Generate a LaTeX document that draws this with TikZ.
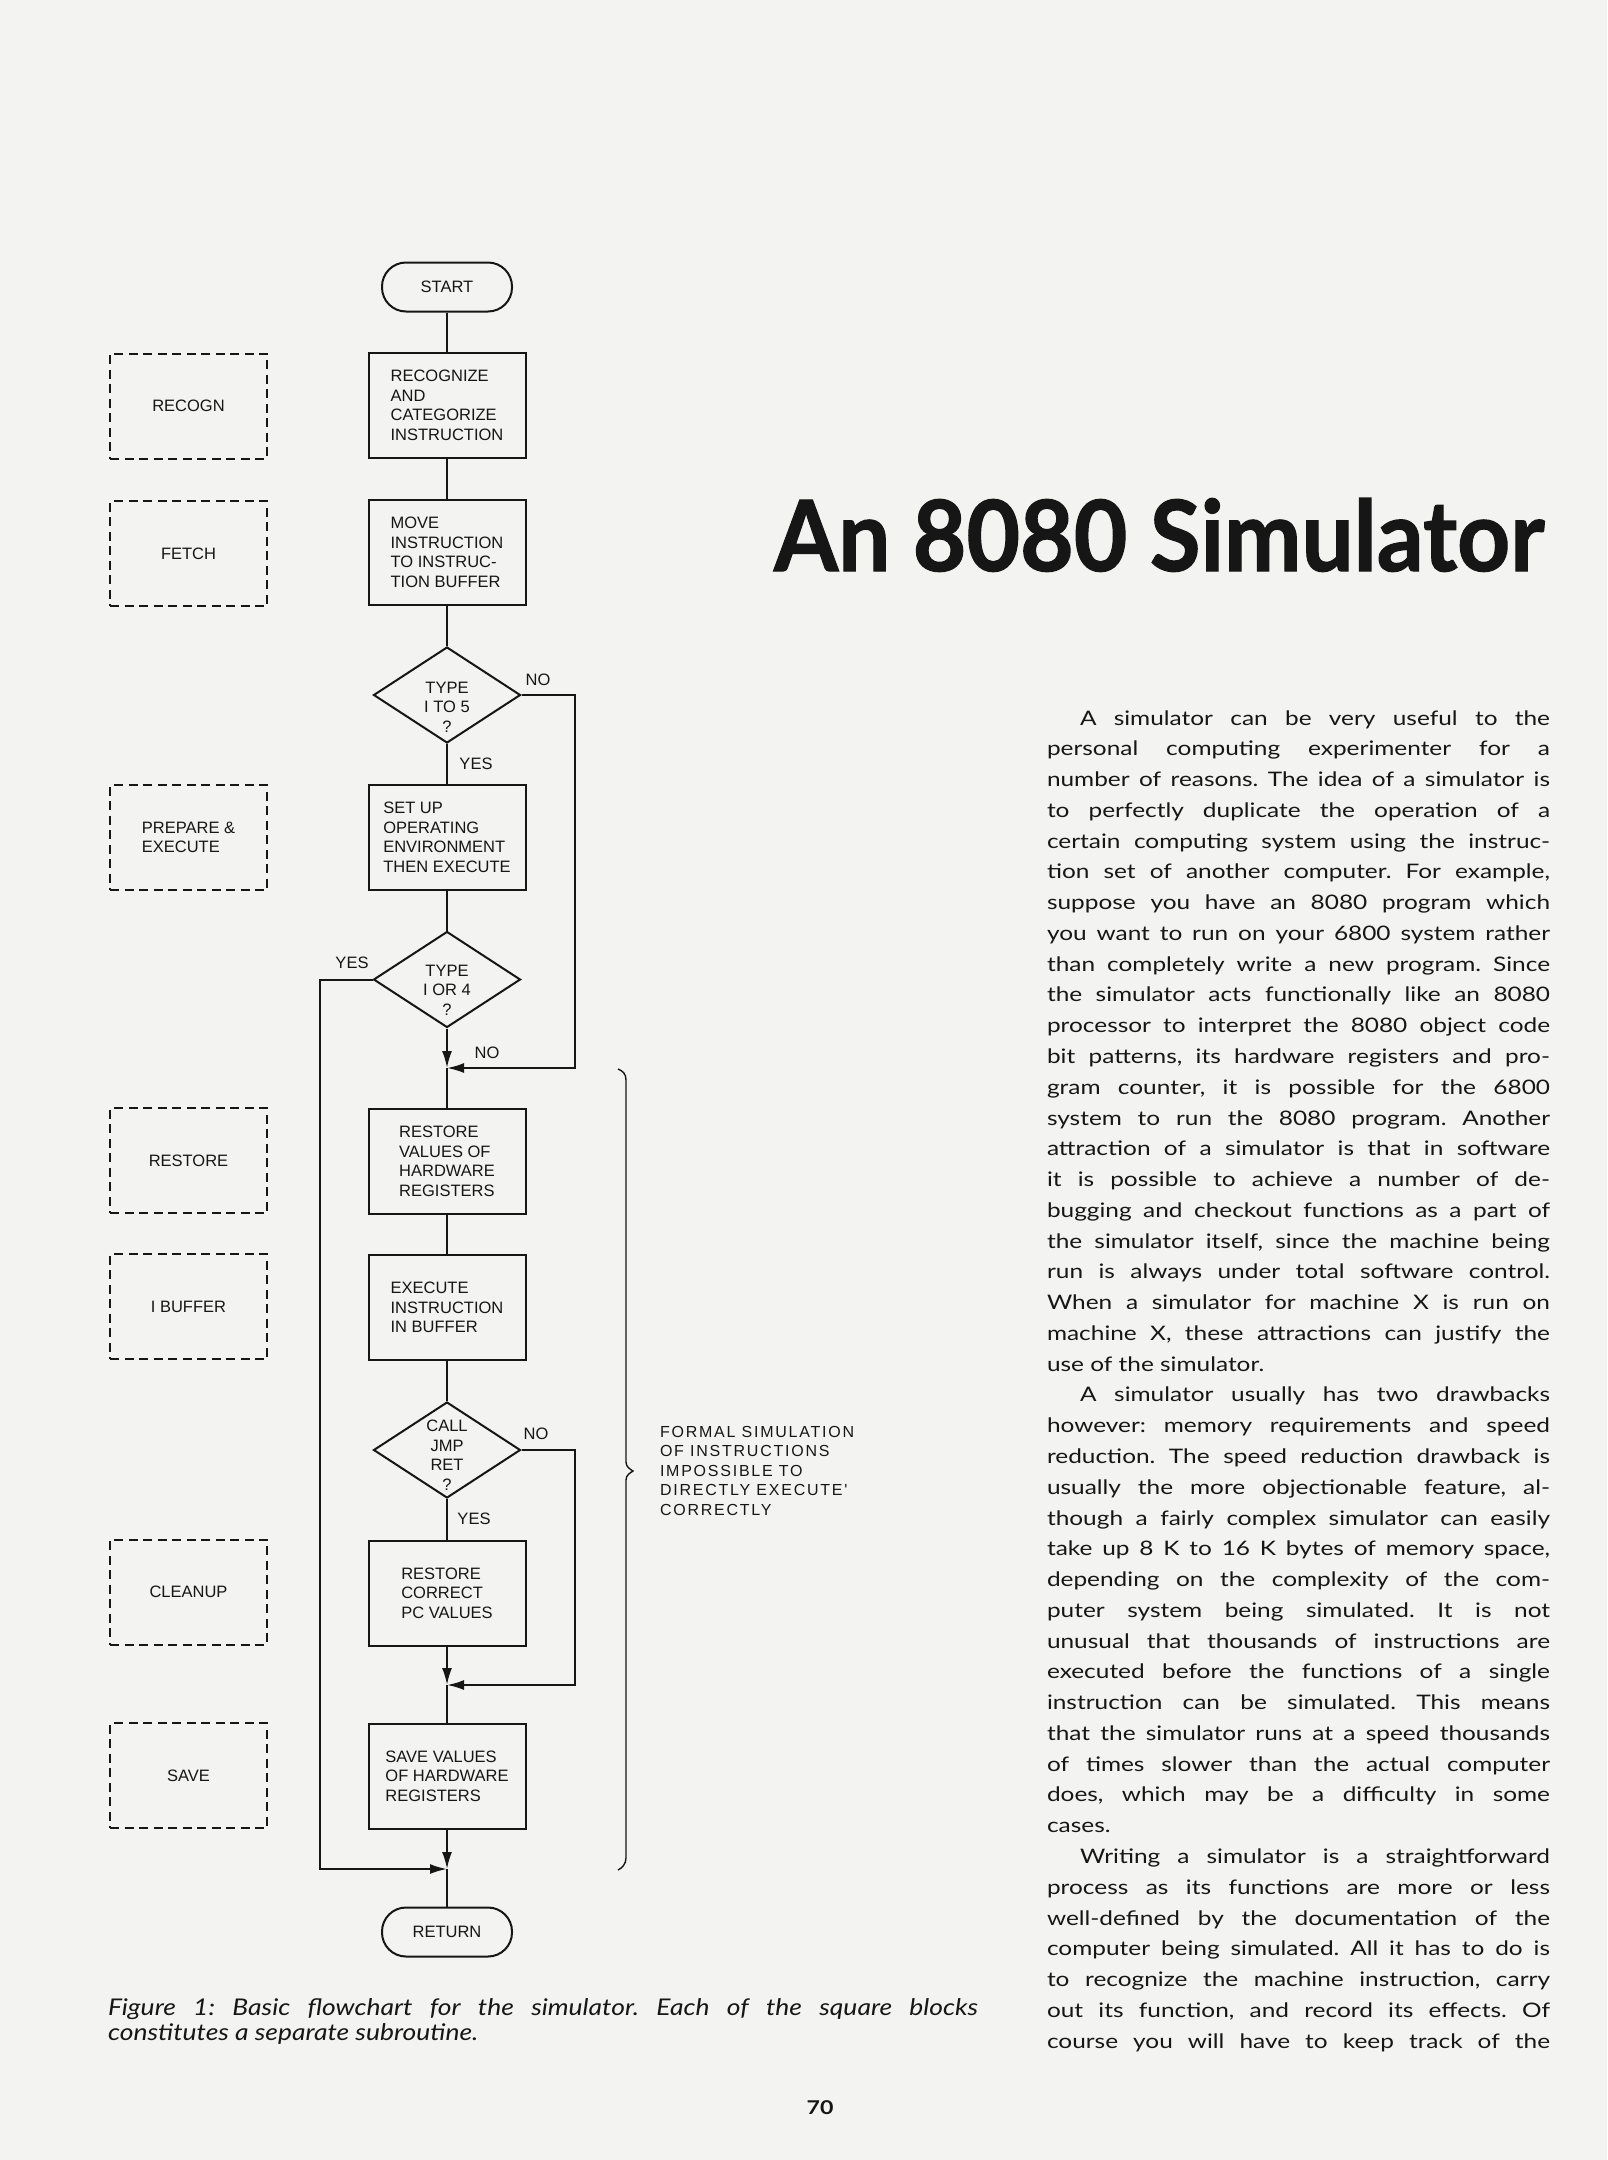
\documentclass[tikz,border=0pt]{standalone}
\usepackage{fontspec}
\usepackage{graphicx}
\usetikzlibrary{shapes.geometric,arrows.meta}
\newfontfamily\fcfont{Liberation Sans}
\newfontfamily\fcwide{Liberation Sans}[LetterSpace=11]
\newfontfamily\bodyfont{Lato}[FakeStretch=1.22]
\newfontfamily\capfont{Lato}[FakeStretch=1.15]
\newfontfamily\titlefont{Lato}[FakeBold=1.2]
\definecolor{paper}{RGB}{243,243,241}
\definecolor{ink}{RGB}{22,22,22}
\newcommand\bodyln[3]{\node[bodytxt] (b#1) at (1046,{725+(#1-1)*30.77}) {\makebox[503pt][#2]{#3}};}
\begin{document}
\frenchspacing
\begin{tikzpicture}[x=1pt,y=-1pt,line width=2pt,
  fc/.style={font=\fcfont\fontsize{16.5}{19.5}\selectfont,text=ink},
  proc/.style={fc,draw=ink,rectangle,minimum width=157pt,minimum height=105pt,align=left,inner sep=0pt},
  term/.style={fc,draw=ink,rectangle,rounded corners=24pt,minimum width=130pt,minimum height=49pt,inner sep=0pt},
  sub/.style={fc,draw=ink,rectangle,dash pattern=on 9pt off 5.5pt,minimum width=157pt,minimum height=105pt,align=left,inner sep=0pt},
  dec/.style={draw=ink,diamond,minimum width=147pt,minimum height=96pt,inner sep=0pt},
  dectxt/.style={fc,align=center,inner sep=0pt},
  lbl/.style={fc,inner sep=0pt},
  conn/.style={draw=ink,line width=2pt},
  arr/.style={conn,-{Latex[length=17pt,width=10pt]}},
  bodytxt/.style={font=\bodyfont\fontsize{20}{24}\selectfont,text=ink,anchor=base west,inner sep=0pt},
  captxt/.style={font=\capfont\itshape\fontsize{23}{27}\selectfont,text=ink,anchor=base west,inner sep=0pt}]
\fill[paper] (0,0) rectangle (1607,2160);
\useasboundingbox (0,0) rectangle (1607,2160);

% main column
\node[term] (start) at (447,287) {START};
\node[proc] (recog) at (447,405.5) {RECOGNIZE\\AND\\CATEGORIZE\\INSTRUCTION};
\node[proc] (move) at (447,552.5) {MOVE\\INSTRUCTION\\TO INSTRUC-\\TION BUFFER};
\node[dec] (d1) at (447,695) {};
\node[dectxt] (d1t) at (447,707) {TYPE\\I TO 5\\?};
\node[proc] (setup) at (447,837.5) {SET UP\\OPERATING\\ENVIRONMENT\\THEN EXECUTE};
\node[dec] (d2) at (447,979.5) {};
\node[dectxt] (d2t) at (447,990) {TYPE\\I OR 4\\?};
\node[proc] (restore) at (447,1161.5) {RESTORE\\VALUES OF\\HARDWARE\\REGISTERS};
\node[proc] (exec) at (447,1307.5) {EXECUTE\\INSTRUCTION\\IN BUFFER};
\node[dec] (d3) at (447,1450) {};
\node[dectxt] (d3t) at (447,1455) {CALL\\JMP\\RET\\?};
\node[proc] (rc) at (447,1593) {RESTORE\\CORRECT\\PC VALUES};
\node[proc] (save) at (447,1776) {SAVE VALUES\\OF HARDWARE\\REGISTERS};
\node[term] (ret) at (447,1932) {RETURN};

% subroutine boxes
\node[sub] (sRecogn) at (188.5,406) {RECOGN};
\node[sub] (sFetch) at (188.5,553.5) {FETCH};
\node[sub] (sPrep) at (188.5,837.5) {PREPARE \&\\EXECUTE};
\node[sub] (sRest) at (188.5,1160.5) {RESTORE};
\node[sub] (sIbuf) at (188.5,1306.5) {I BUFFER};
\node[sub] (sClean) at (188.5,1592) {CLEANUP};
\node[sub] (sSave) at (188.5,1775.5) {SAVE};

% junctions and corners
\coordinate (j1) at (447,1068);
\coordinate (j2) at (447,1685);
\coordinate (j3) at (447,1869);
\coordinate (c1) at (575,1068);
\coordinate (c2) at (575,1685);
\coordinate (c3) at (320,1869);

% connectors
\draw[conn] (start) -- (recog);
\draw[conn] (recog) -- (move);
\draw[conn] (move) -- (d1.north);
\draw[conn] (d1.south) -- (setup);
\draw[conn] (setup) -- (d2.north);
\draw[arr] (d2.south) -- (j1);
\draw[arr] (d1.east) -| (c1) -- (j1);
\draw[conn] (j1) -- (restore);
\draw[conn] (restore) -- (exec);
\draw[conn] (exec) -- (d3.north);
\draw[conn] (d3.south) -- (rc);
\draw[arr] (rc) -- (j2);
\draw[arr] (d3.east) -| (c2) -- (j2);
\draw[conn] (j2) -- (save);
\draw[arr] (save) -- (j3);
\draw[arr] (d2.west) -| (c3) -- (j3);
\draw[conn] (j3) -- (ret);

% branch labels
\node[lbl] (n1) at (538,680) {NO};
\node[lbl] (y1) at (476,764) {YES};
\node[lbl] (y2) at (352,963) {YES};
\node[lbl] (n2) at (487,1053) {NO};
\node[lbl] (n3) at (536,1434) {NO};
\node[lbl] (y3) at (474,1519) {YES};

% brace and note
\draw[ink,line width=1.4pt] (618,1069) .. controls (623,1071) and (626,1074) .. (626,1080)
  -- (626,1462) .. controls (626,1467) and (630,1469) .. (633,1471)
  .. controls (630,1473) and (626,1475) .. (626,1480)
  -- (626,1858) .. controls (626,1864) and (622,1868) .. (618,1870);
\node[font=\fcwide\fontsize{16}{19.5}\selectfont,text=ink,align=left,anchor=north west,inner sep=0pt] (note) at (659,1425)
  {FORMAL SIMULATION\\OF INSTRUCTIONS\\IMPOSSIBLE TO\\DIRECTLY EXECUTE'\\CORRECTLY};

% title
\node[anchor=base west,inner sep=0pt,text=ink] (title) at (773,571)
  {\resizebox{770pt}{73pt}{\titlefont\bfseries An 8080 Simulator}};

% body text
\bodyln{1}{s}{\hspace*{33pt}A simulator can be very useful to the}
\bodyln{2}{s}{personal computing experimenter for a}
\bodyln{3}{s}{number of reasons. The idea of a simulator is}
\bodyln{4}{s}{to perfectly duplicate the operation of a}
\bodyln{5}{s}{certain computing system using the instruc-}
\bodyln{6}{s}{tion set of another computer. For example,}
\bodyln{7}{s}{suppose you have an 8080 program which}
\bodyln{8}{s}{you want to run on your 6800 system rather}
\bodyln{9}{s}{than completely write a new program. Since}
\bodyln{10}{s}{the simulator acts functionally like an 8080}
\bodyln{11}{s}{processor to interpret the 8080 object code}
\bodyln{12}{s}{bit patterns, its hardware registers and pro-}
\bodyln{13}{s}{gram counter, it is possible for the 6800}
\bodyln{14}{s}{system to run the 8080 program. Another}
\bodyln{15}{s}{attraction of a simulator is that in software}
\bodyln{16}{s}{it is possible to achieve a number of de-}
\bodyln{17}{s}{bugging and checkout functions as a part of}
\bodyln{18}{s}{the simulator itself, since the machine being}
\bodyln{19}{s}{run is always under total software control.}
\bodyln{20}{s}{When a simulator for machine X is run on}
\bodyln{21}{s}{machine X, these attractions can justify the}
\bodyln{22}{l}{use of the simulator.}
\bodyln{23}{s}{\hspace*{33pt}A simulator usually has two drawbacks}
\bodyln{24}{s}{however: memory requirements and speed}
\bodyln{25}{s}{reduction. The speed reduction drawback is}
\bodyln{26}{s}{usually the more objectionable feature, al-}
\bodyln{27}{s}{though a fairly complex simulator can easily}
\bodyln{28}{s}{take up 8 K to 16 K bytes of memory space,}
\bodyln{29}{s}{depending on the complexity of the com-}
\bodyln{30}{s}{puter system being simulated. It is not}
\bodyln{31}{s}{unusual that thousands of instructions are}
\bodyln{32}{s}{executed before the functions of a single}
\bodyln{33}{s}{instruction can be simulated. This means}
\bodyln{34}{s}{that the simulator runs at a speed thousands}
\bodyln{35}{s}{of times slower than the actual computer}
\bodyln{36}{s}{does, which may be a difficulty in some}
\bodyln{37}{l}{cases.}
\bodyln{38}{s}{\hspace*{33pt}Writing a simulator is a straightforward}
\bodyln{39}{s}{process as its functions are more or less}
\bodyln{40}{s}{well-defined by the documentation of the}
\bodyln{41}{s}{computer being simulated. All it has to do is}
\bodyln{42}{s}{to recognize the machine instruction, carry}
\bodyln{43}{s}{out its function, and record its effects. Of}
\bodyln{44}{s}{course you will have to keep track of the}

% caption and page number
\node[captxt] (cap1) at (107,2015) {\makebox[870pt][s]{Figure 1: Basic flowchart for the simulator. Each of the square blocks}};
\node[captxt] (cap2) at (107,2040) {constitutes a separate subroutine.};
\node[font=\bodyfont\bfseries\fontsize{19}{22}\selectfont,text=ink,anchor=base,inner sep=0pt] (pg) at (820,2114) {70};
\end{tikzpicture}
\end{document}
